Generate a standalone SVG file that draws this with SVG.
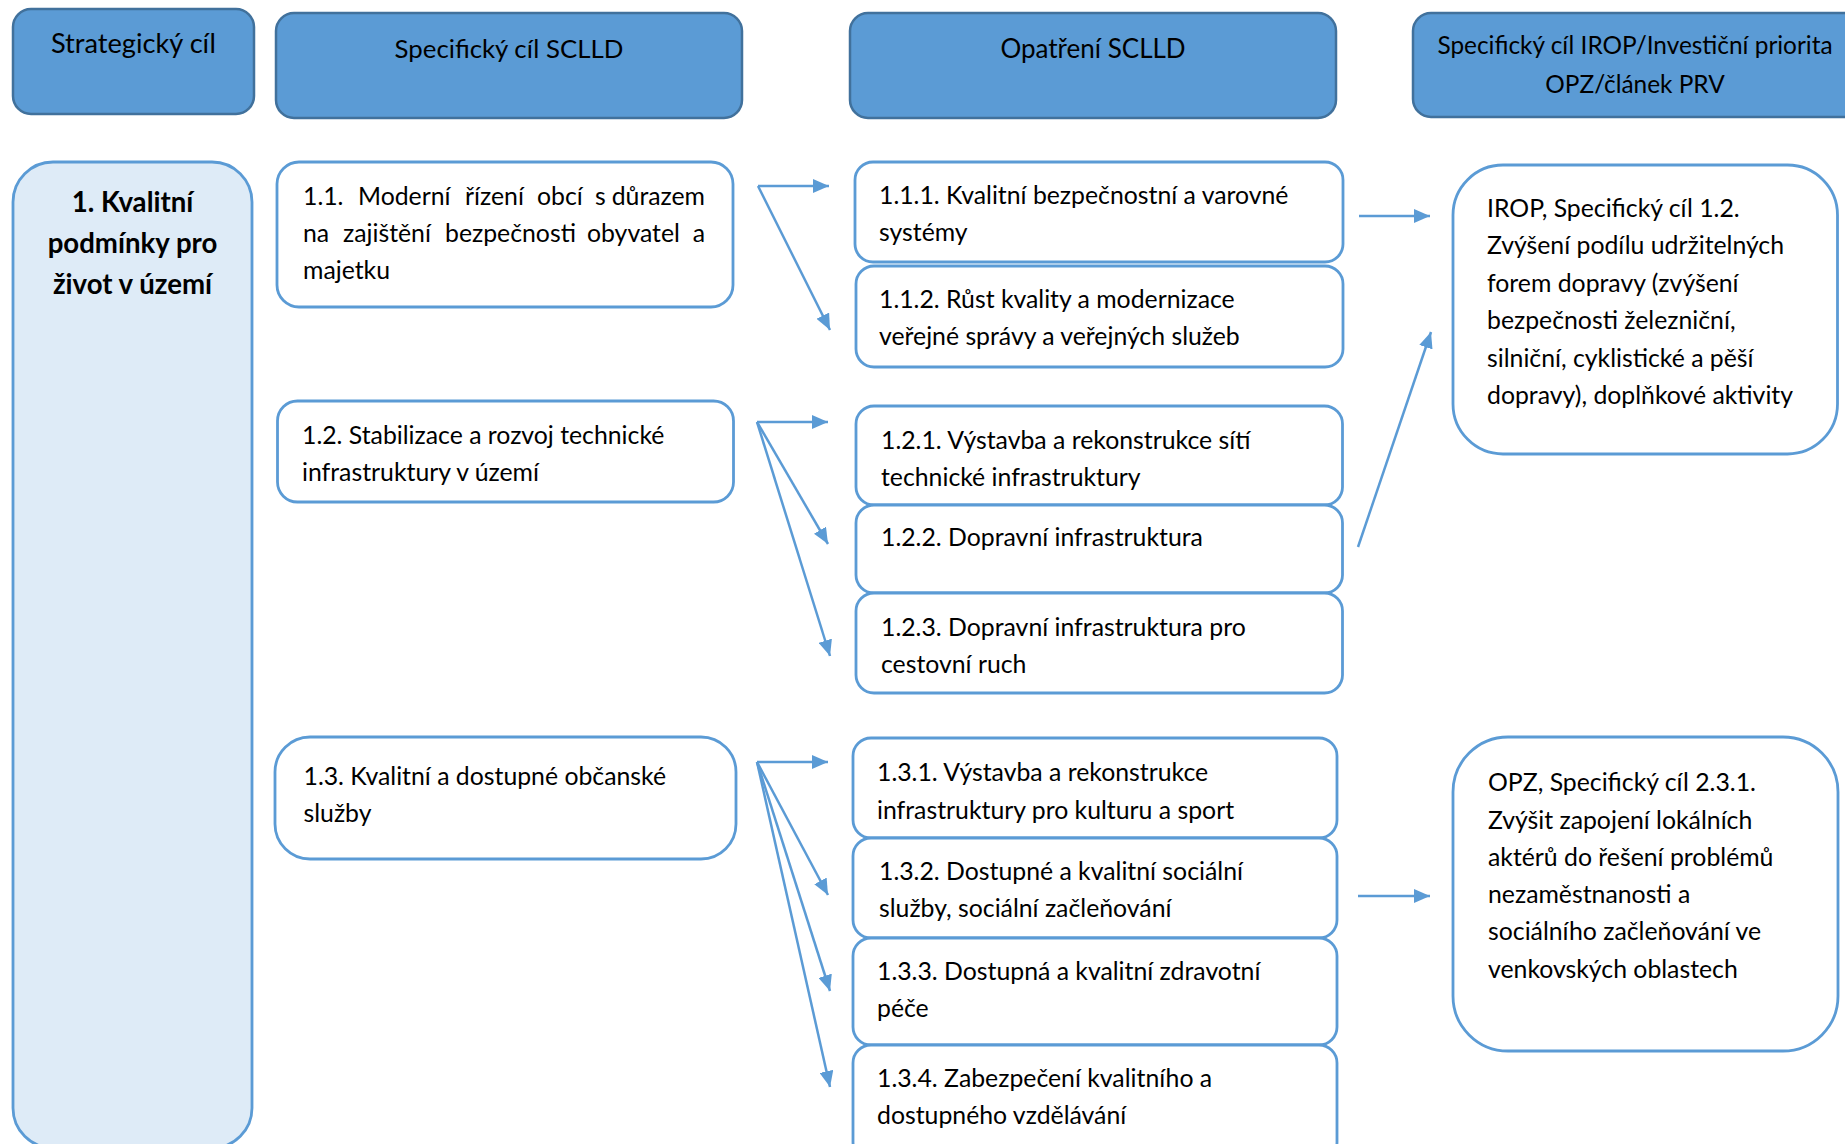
<svg xmlns="http://www.w3.org/2000/svg" width="1845" height="1144" viewBox="0 0 1845 1144">
<defs>
<style>
text{font-family:Lato,"Liberation Sans",sans-serif;font-size:24.8px;fill:#000}
.hd rect{fill:#5B9BD5;stroke:#41719C;stroke-width:2.5}
.bx{fill:#fff;stroke:#5B9BD5;stroke-width:2.8}
.hdt{text-anchor:middle}
.st{font-weight:bold;font-size:27.6px;text-anchor:middle}
#connectors line{stroke:#5B9BD5;stroke-width:2.5;fill:none}
</style>
<marker id="ah" markerUnits="userSpaceOnUse" markerWidth="18" markerHeight="14" refX="16" refY="7" orient="auto" viewBox="0 0 18 14">
<path d="M0,0 L16,7 L0,14 z" fill="#5B9BD5"/>
</marker>
</defs>
<rect width="1845" height="1144" fill="#fff"/>

<g id="h1" class="hd"><rect x="13" y="9" width="241" height="105" rx="18"/><text class="hdt" x="133.5" y="53" style="font-size:27.2px">Strategický cíl</text></g>
<g id="h2" class="hd"><rect x="276" y="13" width="466" height="105" rx="18"/><text class="hdt" x="509" y="57.5" style="font-size:25.8px">Specifický cíl SCLLD</text></g>
<g id="h3" class="hd"><rect x="850" y="13" width="486" height="105" rx="18"/><text class="hdt" x="1093" y="57.5" style="font-size:26px">Opatření SCLLD</text></g>
<g id="h4" class="hd"><rect x="1413" y="13" width="450" height="104" rx="18"/><text class="hdt" x="1635" y="54" style="font-size:24.4px">Specifický cíl IROP/Investiční priorita</text><text class="hdt" x="1635" y="93" style="font-size:24.4px">OPZ/článek PRV</text></g>

<g id="s1"><rect x="13" y="162" width="239" height="986" rx="40" fill="#DEEBF7" stroke="#5B9BD5" stroke-width="2.8"/>
<text class="st" x="132.5" y="211.5">1. Kvalitní</text><text class="st" x="132.5" y="252.5">podmínky pro</text><text class="st" x="132.5" y="294">život v území</text></g>

<g id="c11"><rect class="bx" x="277" y="162" width="456" height="145" rx="22"/>
<text y="204.5"><tspan x="303">1.1.</tspan><tspan x="358">Moderní</tspan><tspan x="465">řízení</tspan><tspan x="537">obcí</tspan><tspan x="595">s</tspan><tspan x="705" text-anchor="end">důrazem</tspan></text>
<text y="241.5"><tspan x="303">na</tspan><tspan x="343">zajištění</tspan><tspan x="445">bezpečnosti</tspan><tspan x="587">obyvatel</tspan><tspan x="705" text-anchor="end">a</tspan></text>
<text x="303" y="278.5">majetku</text></g>

<g id="c12"><rect class="bx" x="277.5" y="401" width="456" height="101" rx="20"/>
<text x="302" y="443.5">1.2. Stabilizace a rozvoj technické</text><text x="302" y="480.5">infrastruktury v území</text></g>

<g id="c13"><rect class="bx" x="275" y="737" width="461" height="122" rx="35"/>
<text x="303.5" y="784.5">1.3. Kvalitní a dostupné občanské</text><text x="303.5" y="821.5">služby</text></g>

<g id="m111"><rect class="bx" x="855" y="162" width="488" height="100" rx="18"/>
<text x="879" y="203.5">1.1.1. Kvalitní bezpečnostní a varovné</text><text x="879" y="240.5">systémy</text></g>
<g id="m112"><rect class="bx" x="856" y="266" width="487" height="101" rx="18"/>
<text x="879" y="307.5">1.1.2. Růst kvality a modernizace</text><text x="879" y="344.5">veřejné správy a veřejných služeb</text></g>

<g id="m121"><rect class="bx" x="856" y="406" width="486.5" height="99" rx="18"/>
<text x="881" y="448.5">1.2.1. Výstavba a rekonstrukce sítí</text><text x="881" y="485.5">technické infrastruktury</text></g>
<g id="m122"><rect class="bx" x="856" y="505" width="486.5" height="88" rx="18"/>
<text x="881" y="545.5">1.2.2. Dopravní infrastruktura</text></g>
<g id="m123"><rect class="bx" x="856" y="593" width="486.5" height="100" rx="18"/>
<text x="881" y="635.5">1.2.3. Dopravní infrastruktura pro</text><text x="881" y="672.5">cestovní ruch</text></g>

<g id="m131"><rect class="bx" x="853" y="738" width="484" height="100" rx="18"/>
<text x="877" y="780.5">1.3.1. Výstavba a rekonstrukce</text><text x="877" y="818.5">infrastruktury pro kulturu a sport</text></g>
<g id="m132"><rect class="bx" x="853" y="838" width="484" height="100" rx="18"/>
<text x="879" y="879.5">1.3.2. Dostupné a kvalitní sociální</text><text x="879" y="916.5">služby, sociální začleňování</text></g>
<g id="m133"><rect class="bx" x="853" y="938" width="484" height="107" rx="18"/>
<text x="877" y="979.5">1.3.3. Dostupná a kvalitní zdravotní</text><text x="877" y="1016.5">péče</text></g>
<g id="m134"><rect class="bx" x="853" y="1045" width="484" height="115" rx="18"/>
<text x="877" y="1086.5">1.3.4. Zabezpečení kvalitního a</text><text x="877" y="1123.5">dostupného vzdělávání</text></g>

<g id="irop"><rect class="bx" x="1453" y="165" width="384.5" height="289" rx="50"/>
<text x="1487" y="216.5">IROP, Specifický cíl 1.2.</text>
<text x="1487" y="254">Zvýšení podílu udržitelných</text>
<text x="1487" y="291.5">forem dopravy (zvýšení</text>
<text x="1487" y="329">bezpečnosti železniční,</text>
<text x="1487" y="366.5">silniční, cyklistické a pěší</text>
<text x="1487" y="404">dopravy), doplňkové aktivity</text></g>

<g id="opz"><rect class="bx" x="1453" y="737" width="385" height="314" rx="55"/>
<text x="1488" y="790.5">OPZ, Specifický cíl 2.3.1.</text>
<text x="1488" y="828.5">Zvýšit zapojení lokálních</text>
<text x="1488" y="865.5">aktérů do řešení problémů</text>
<text x="1488" y="902.5">nezaměstnanosti a</text>
<text x="1488" y="939.5">sociálního začleňování ve</text>
<text x="1488" y="977.5">venkovských oblastech</text></g>

<g id="connectors">
<line x1="758" y1="186" x2="829" y2="186" marker-end="url(#ah)"/>
<line x1="758" y1="186" x2="830" y2="330" marker-end="url(#ah)"/>
<line x1="757" y1="422" x2="828" y2="422" marker-end="url(#ah)"/>
<line x1="757" y1="422" x2="828" y2="544" marker-end="url(#ah)"/>
<line x1="757" y1="422" x2="830" y2="656" marker-end="url(#ah)"/>
<line x1="757" y1="762" x2="828" y2="762" marker-end="url(#ah)"/>
<line x1="757" y1="762" x2="828" y2="895" marker-end="url(#ah)"/>
<line x1="757" y1="762" x2="830" y2="991" marker-end="url(#ah)"/>
<line x1="757" y1="762" x2="830" y2="1087" marker-end="url(#ah)"/>
<line x1="1359" y1="216" x2="1430" y2="216" marker-end="url(#ah)"/>
<line x1="1358" y1="547" x2="1431" y2="332" marker-end="url(#ah)"/>
<line x1="1358" y1="896" x2="1430" y2="896" marker-end="url(#ah)"/>
</g>
</svg>
